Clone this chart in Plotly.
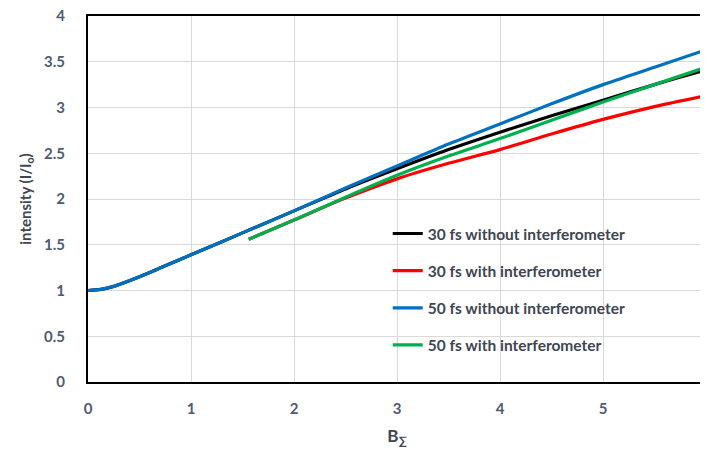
import plotly.graph_objects as go

x_50_wo = [0, 0.125, 0.25, 0.5, 0.75, 1, 1.5, 2, 2.5, 3, 3.5, 4, 4.5, 5, 5.5, 6]
y_50_wo = [1.0, 1.012, 1.045, 1.15, 1.27, 1.39, 1.63, 1.87, 2.12, 2.36, 2.6, 2.82, 3.04, 3.25, 3.44, 3.63]

x_30_wo = [0, 0.125, 0.25, 0.5, 0.75, 1, 1.5, 2, 2.5, 3, 3.5, 4, 4.5, 5, 5.5, 6]
y_30_wo = [1.0, 1.012, 1.045, 1.15, 1.27, 1.39, 1.63, 1.87, 2.11, 2.33, 2.54, 2.73, 2.91, 3.08, 3.25, 3.41]

x_50_w = [1.56, 2, 2.5, 3, 3.5, 4, 4.5, 5, 5.5, 6]
y_50_w = [1.56, 1.77, 2.02, 2.26, 2.47, 2.66, 2.86, 3.06, 3.25, 3.44]

x_30_w = [1.56, 2, 2.5, 3, 3.5, 4, 4.5, 5, 5.5, 6]
y_30_w = [1.56, 1.77, 2.01, 2.22, 2.39, 2.54, 2.71, 2.87, 3.01, 3.13]

series = [
    ("30 fs without interferometer", x_30_wo, y_30_wo, "#000000"),
    ("30 fs with interferometer", x_30_w, y_30_w, "#ff0000"),
    ("50 fs without interferometer", x_50_wo, y_50_wo, "#0070c0"),
    ("50 fs with interferometer", x_50_w, y_50_w, "#00b050"),
]
draw_order = [1, 0, 3, 2]

fig = go.Figure()
for i in draw_order:
    name, xs, ys, c = series[i]
    fig.add_trace(go.Scatter(x=xs, y=ys, mode="lines", name=name,
                             legendgroup="g%d" % i,
                             line=dict(color=c, width=3.2, shape="spline", smoothing=0.8),
                             legendrank=i + 1))

font_family = "Lato, 'Open Sans', sans-serif"
tick_color = "#4f5b70"
title_color = "#404552"
# page body has an 8px default margin, so the figure is sized to fit the window
fig.update_layout(
    width=700, height=449,
    margin=dict(l=80, r=2, t=8, b=75),
    paper_bgcolor="white", plot_bgcolor="white",
    font=dict(family=font_family, size=15, color=tick_color),
    showlegend=True,
    legend=dict(x=0.485, y=0.451, xanchor="left", yanchor="top",
                bgcolor="rgba(0,0,0,0)", tracegroupgap=14,
                font=dict(family=font_family, size=15.5, color=title_color, weight="bold"),
                itemwidth=30),
    xaxis=dict(range=[0, 6], dtick=1, showgrid=True, gridcolor="#d9d9d9", gridwidth=1,
               showline=True, linecolor="#000000", linewidth=2, mirror=True,
               zeroline=False, ticks="", ticklabelstandoff=12, automargin=False,
               ticklabeloverflow="allow",
               tickfont=dict(family=font_family, size=15, color=tick_color, weight="bold"),
               title=dict(text="B<sub>∑</sub>", standoff=14,
                          font=dict(family=font_family, size=17, color=title_color, weight="bold"))),
    yaxis=dict(range=[0, 4], dtick=0.5, showgrid=True, gridcolor="#d9d9d9", gridwidth=1,
               showline=True, linecolor="#000000", linewidth=2, mirror=True,
               zeroline=False, ticks="", ticklabelstandoff=18, automargin=False,
               ticklabeloverflow="allow",
               tickfont=dict(family=font_family, size=15, color=tick_color, weight="bold"),
               title=dict(text="intensity (I/I<sub>o</sub>)", standoff=9,
                          font=dict(family=font_family, size=15, color=title_color, weight="bold"))),
)

fig.write_html("out.html")
